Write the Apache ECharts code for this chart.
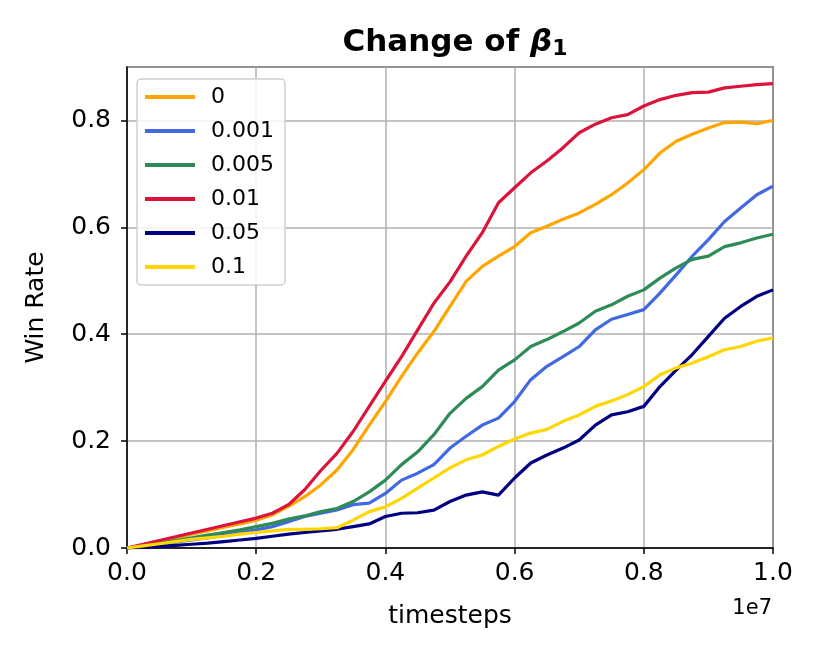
<!DOCTYPE html>
<html><head><meta charset="utf-8">
<script src="https://cdn.jsdelivr.net/npm/echarts@6/dist/echarts.min.js"></script>
<style>html,body{margin:0;padding:0;background:#fff}#c{width:822px;height:658px}</style>
</head><body><div id="c"></div>
<script>
// x positions in units of 1e7 timesteps
const xTicks = [0,0.025,0.05,0.075,0.1,0.125,0.15,0.175,0.2,0.225,0.25,0.275,0.3,0.325,0.35,0.375,0.4,0.425,0.45,0.475,0.5,0.525,0.55,0.575,0.6,0.625,0.65,0.675,0.7,0.725,0.75,0.775,0.8,0.825,0.85,0.875,0.9,0.925,0.95,0.975,1.0];
const seriesNames = ['0','0.001','0.005','0.01','0.05','0.1'];
const colors = ['#FFA500','#4169E1','#2E8B57','#DC143C','#000080','#FFD700'];
const v0    = [0,0.006,0.013,0.019,0.026,0.032,0.039,0.045,0.052, 0.062,0.078,0.096,0.118,0.146,0.184,0.23,0.274,0.321,0.365,0.405,0.452, 0.499,0.527,0.546,0.564,0.59,0.602,0.615,0.627,0.643,0.661, 0.683,0.708,0.739,0.761,0.774,0.786,0.796,0.797,0.794,0.80];
const v0001 = [0,0.003,0.007,0.011,0.015,0.019,0.024,0.029,0.034, 0.04,0.049,0.059,0.065,0.071,0.081,0.084,0.102,0.127,0.14,0.156,0.187, 0.209,0.23,0.243,0.274,0.315,0.34,0.358,0.377,0.408,0.428, 0.437,0.446,0.477,0.511,0.546,0.577,0.611,0.636,0.661,0.677];
const v0005 = [0,0.004,0.009,0.014,0.019,0.024,0.029,0.034,0.04, 0.046,0.054,0.06,0.068,0.074,0.087,0.105,0.127,0.156,0.18,0.212,0.252, 0.28,0.302,0.333,0.352,0.377,0.39,0.405,0.421,0.443,0.455, 0.471,0.483,0.505,0.524,0.54,0.546,0.564,0.571,0.58,0.587];
const v001  = [0,0.007,0.014,0.021,0.028,0.035,0.042,0.049,0.056, 0.065,0.081,0.109,0.145,0.177,0.218,0.265,0.312,0.358,0.408,0.458,0.498, 0.546,0.59,0.646,0.674,0.702,0.724,0.749,0.777,0.793,0.805, 0.811,0.827,0.839,0.847,0.852,0.853,0.861,0.864,0.867,0.869];
const v005  = [0,0.001,0.003,0.005,0.007,0.009,0.012,0.015,0.018, 0.022,0.026,0.029,0.032,0.035,0.04,0.045,0.059,0.065,0.066,0.071,0.087, 0.099,0.105,0.099,0.131,0.159,0.174,0.187,0.202,0.23,0.249, 0.255,0.265,0.302,0.333,0.362,0.396,0.43,0.452,0.471,0.483];
const v01   = [0,0.004,0.008,0.012,0.016,0.019,0.022,0.026,0.029, 0.032,0.035,0.035,0.036,0.038,0.052,0.068,0.077,0.093,0.112,0.131,0.15, 0.165,0.174,0.19,0.204,0.215,0.222,0.237,0.249,0.265,0.275, 0.287,0.302,0.324,0.337,0.346,0.358,0.371,0.377,0.387,0.393];
const allVals = [v0,v0001,v0005,v001,v005,v01];

const chart = echarts.init(document.getElementById('c'), null, {renderer:'canvas'});
const font = 'DejaVu Sans';
chart.setOption({
  animation:false,
  backgroundColor:'#fff',
  title:{
    text:'{b|Change of }{g|β}{s|1}',
    left:450, top:20, textAlign:'center',
    textStyle:{rich:{
      b:{fontFamily:font,fontWeight:'bold',fontSize:31,color:'#000'},
      g:{fontFamily:font,fontStyle:'italic',fontSize:31,color:'#000'},
      s:{fontFamily:font,fontSize:22,color:'#000',padding:[13,0,0,0]}
    }}
  },
  grid:{left:127,right:49,top:67,bottom:110,show:true,borderColor:'#000',borderWidth:1.5,containLabel:false},
  legend:{
    orient:'vertical', left:137, top:79,
    data:seriesNames,
    icon:'rect', itemWidth:50, itemHeight:4, itemGap:12,
    padding:[7,11,7,8],
    backgroundColor:'rgba(255,255,255,0.85)', borderColor:'#d0d0d0', borderWidth:1.5, borderRadius:4,
    textStyle:{fontFamily:font,fontSize:22,color:'#000',lineHeight:22,padding:[0,0,0,11]}
  },
  xAxis:{
    type:'value', min:0, max:1e7, interval:2e6,
    name:'timesteps', nameLocation:'middle', nameGap:56,
    nameTextStyle:{fontFamily:font,fontSize:25,color:'#000'},
    axisLine:{show:true,lineStyle:{color:'#000',width:1.5}},
    axisTick:{show:true,length:6,inside:false,lineStyle:{color:'#000',width:1.5}},
    axisLabel:{fontFamily:font,fontSize:25,color:'#000',margin:13,formatter:v=>(v/1e7).toFixed(1)},
    splitLine:{show:true,lineStyle:{color:'#b0b0b0',width:1.5}}
  },
  yAxis:{
    type:'value', min:0, max:0.9, interval:0.2,
    name:'Win Rate', nameLocation:'middle', nameGap:78, nameRotate:90,
    nameTextStyle:{fontFamily:font,fontSize:25,color:'#000'},
    axisLine:{show:true,lineStyle:{color:'#000',width:1.5}},
    axisTick:{show:true,length:6,lineStyle:{color:'#000',width:1.5}},
    axisLabel:{fontFamily:font,fontSize:25,color:'#000',margin:16,showMaxLabel:false,formatter:v=>v.toFixed(1)},
    splitLine:{show:true,lineStyle:{color:'#b0b0b0',width:1.5}}
  },
  graphic:[{type:'text',right:50,top:598,style:{text:'1e7',font:'21px "DejaVu Sans"',fill:'#000'}}],
  series: seriesNames.map((n,i)=>({
    name:n, type:'line', showSymbol:false, symbol:'none',
    data: xTicks.map((x,j)=>[x*1e7, allVals[i][j]]),
    lineStyle:{color:colors[i],width:3.2}, itemStyle:{color:colors[i]},
    z: 2
  }))
});
</script></body></html>
